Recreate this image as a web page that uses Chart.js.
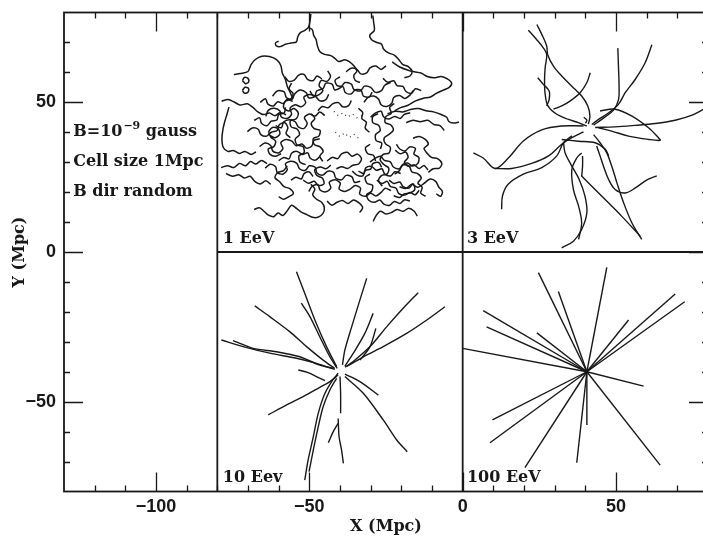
<!DOCTYPE html>
<html>
<head>
<meta charset="utf-8">
<script src="https://cdn.jsdelivr.net/npm/chart.js@4.4.1/dist/chart.umd.min.js"></script>
<style>
  html, body { margin: 0; padding: 0; background: #fff; overflow: hidden; }
  #wrap { width: 703px; height: 539px; overflow: hidden; }
</style>
</head>
<body>
<div id="wrap"><canvas id="chart" width="712" height="539"></canvas></div>
<script>
// tick labels
const xTicks = [-100, -50, 0, 50];
const yTicks = [-50, 0, 50];

// 1 EeV panel: random-walk tracks, flat x,y lists (Mpc)
const tracks1EeV = [
  // outer excursions
  [-49.5,79.5, -49.8,77, -50.3,75, -51.5,74, -53,73.2, -53.8,71.8, -54.2,70.2, -56,69.8, -57.8,69.4, -59.5,68.6, -60.8,68.9, -61,69.9, -60,70.4],
  [-50.3,75, -49,74.2, -48.6,72.4, -47.8,71, -47.4,69, -46.6,67, -45,66, -43,65.6, -41.5,64.5, -40.4,63.6, -38.5,64.2, -37,63.6, -35.5,62.2, -34.5,60.5, -35.5,59, -35,57.3, -33.5,56.6],
  [-29.3,79, -29,76.5, -28.8,74, -30.3,72.4, -29.6,70.8, -28,70, -26.5,69.5, -25.8,67.8, -24.2,66.5, -22.3,65.8, -20.8,64.2, -19.5,62.6, -17.8,62, -16.5,60.3, -17.2,58.8, -19,58.2],
  [-23,63.5, -20.5,61.8, -18,60.8, -15.8,60.2, -13.6,59.8, -11.5,58.6, -9.4,58.2, -7,58.6, -5,57.8, -3.6,56.4, -4.4,55, -6.5,54, -8.6,53, -10.5,51.8, -13,51.3, -15.5,50.4, -17.8,49, -20,48.3, -22.2,47.2],
  [-24.5,46.2, -22,47, -19.5,46.8, -17,47.6, -14.5,47.9, -12,47.2, -9.5,46.8, -7.2,46, -5.2,45, -4.5,43.6, -3,43.1, -1.2,43.4],
  [-74.6,59.3, -72.5,59.6, -70,60.3, -69,62.6, -67.6,64.3, -65.5,65.4, -63,65.3, -60.6,64.2, -59.3,62.3, -58.8,59.8, -57.8,57.6, -57.2,55.4, -56.2,53.2, -55.4,51.2],
  [-71.8,57.2, -71.2,58.3, -70,58, -69.8,56.8, -70.8,56.2, -71.8,57.2],
  [-71.8,54, -71,55, -69.8,54.6, -70,53.4, -71.2,53.1, -71.8,54],
  [-78.6,50.4, -76.5,50.9, -74.5,50.1, -72.6,49.1, -70.2,49.5, -68.4,48.3, -66.8,46.8, -65,45.9, -63,46.4, -61.2,45.5, -59.5,46.6, -57.6,45.8],
  [-76.2,48.4, -76.8,46.2, -77.6,43.5, -78.2,40.8, -78.5,37.8, -78.1,35, -76.6,33.6, -74.8,33.9, -72.8,32.9, -71,33.6, -69,32.6, -67.4,33.4],
  [-78.8,28.2, -76.6,28.8, -74.6,28.2, -72.8,29.6, -70.8,28.8, -69.2,30.2, -67.4,29.4, -65.6,30.6, -63.8,29.5],
  [-77.2,26.2, -75,25.3, -73,25.8, -71.2,24.7, -69.3,25.3, -67.8,23.6, -66,22.7, -64.2,23.8, -62.6,22.6],
  [-68,14.2, -66.3,14.8, -64.8,13.6, -63.3,12.3, -61.6,11.8, -60.2,13, -58.6,12.2, -57.2,13.8, -55.8,15.6, -54.2,14.6, -52.6,13.3, -50.8,12.5, -49,11.6, -47.2,11.6, -45.6,12.8, -45.1,14.8, -46,16.6, -47.6,17.6, -48.9,19.2, -48.2,21, -49.5,22.6],
  [-60,18.5, -58.4,17.6, -56.8,18.4, -55.2,19.6, -56.4,21.2, -58.2,21.8, -59.6,23.4, -61.2,24.8, -60.2,26.6, -58.4,27.2, -57.2,28.8],
  [-44.2,17, -42.6,15.6, -41,16.6, -39.2,17.2, -37.4,16.2, -35.6,17.4, -33.8,16.4, -32.6,14.8, -33.6,13.2],
  [-29.2,10.2, -28.2,12.2, -26.8,13.6, -25,12.7, -23.2,13.2, -21.4,14.2, -19.4,13.6, -17.6,14.6, -15.8,13.6, -14.8,12],
  [-20.6,21.8, -18.6,21.2, -16.6,22.6, -14.6,21.6, -12.6,22.9, -10.6,24.4, -8.8,23.6, -7.8,21.7, -6.6,20.2, -7.2,18.6, -8.6,19.4],
  [-16.2,38, -14.2,38.6, -12.2,37.6, -11.2,36, -12.6,34.6, -11.6,33, -10.2,31.6, -8.2,31.2, -6.8,29.6, -7.6,28, -9.6,27.8, -11.2,26.6],
  [-18.4,43.2, -16.2,44, -13.8,43.5, -11.4,44, -9.4,42.6, -7.4,42.2, -6,40.6],
  // dense ring round the source
  [-62,52, -60.5,53.8, -58.2,53.5, -57.5,51.6, -55.6,51, -54.8,52.8, -53,54.1, -51,53.2, -50.2,51.5, -48.3,51.9, -47.6,53.8, -45.5,54.6, -44.6,56.4, -42.5,56, -41.8,54.2, -39.8,54.9, -38.4,56.6, -36.3,56.1, -35.5,54.3, -33.4,53.8, -32,55.4, -30,55, -28.6,53.4, -26.5,53.9, -25.4,55.7, -23.5,56.6],
  [-64.2,45.3, -63.4,47.3, -61.5,48, -59.6,47.1, -59.2,45.2, -57.3,44.6, -55.8,46, -56.3,48, -54.6,49.2, -52.7,48.5, -51.2,49.8, -51.8,51.7, -50,52.6, -48,52, -46.6,50.5, -44.6,50.9, -43.7,52.7],
  [-55.8,56.4, -56.6,54.5, -55.3,52.9, -56.1,51, -57.9,50.3, -58.4,48.3, -56.8,47.1, -55,47.9, -53.6,46.4, -54.3,44.5, -56.2,43.8, -55.9,41.8, -54,41.1, -53.2,39.2, -54.6,37.7, -54,35.8, -52.1,35.2, -51.7,33.2, -53.4,32.1, -53,30, -51.2,29.2],
  [-61,42.2, -59.1,41.5, -58.4,43.4, -56.5,44.2, -54.6,43.5, -53.6,41.8, -51.7,41.3, -50.7,43, -51.6,44.9, -50,46.1, -48.1,45.4, -46.6,46.8, -45,45.6],
  [-66.2,35.2, -64.5,36.4, -62.6,35.6, -61.9,33.7, -60,33.1, -58.6,34.6, -59.3,36.5, -57.6,37.6, -55.7,37, -54.3,35.5, -52.4,36.1, -51,34.7, -49.2,35.4, -48.5,37.3, -46.6,37.8],
  [-64.4,28, -62.8,29.3, -61,28.5, -60.5,26.6, -58.6,26, -57.2,27.5, -57.8,29.4, -56,30.3, -54.1,29.6, -53.2,27.8, -51.3,27.3, -50,28.8, -48.1,28.3, -47.5,26.4, -45.6,25.7, -44,27, -42.1,26.6, -41.4,24.7, -39.5,24.1, -38,25.6, -36.1,25.1, -35.3,23.3, -33.4,23.6],
  [-50.2,20.2, -49.1,21.9, -47.2,22.5, -46.5,20.7, -44.6,20.1, -43,21.4, -43.5,23.3, -41.6,24.1, -39.9,23, -40.3,21.1, -38.5,20.2, -36.7,21, -35,22.2, -33.3,21.3, -33.6,19.4, -31.8,18.6, -30,19.6, -28.3,18.7, -26.6,19.9, -25.2,21.3, -23.4,20.5],
  [-26.2,22, -27.4,23.7, -26.5,25.5, -24.6,26.1, -24.1,28, -25.7,29.2, -26.9,30.8, -25.9,32.6, -24,33.1, -23.6,35, -25.2,36.2, -25.6,38.1, -24,39.3, -22.6,40.7, -23.5,42.5, -25.3,43.3, -25,45.3, -23.3,46.3, -23.8,48.3, -22.3,49.6],
  [-22.2,26, -20.6,27.2, -19.8,29, -18,29.7, -16.3,28.7, -14.6,29.6, -14.3,31.6, -15.9,32.7, -15.4,34.6, -17.3,35.1, -18.7,33.8, -20.5,34.4, -21.6,36],
  [-32.2,50, -30.9,51.6, -29,52.1, -27.4,51, -26.6,49.2, -24.8,48.6, -23.1,49.7, -22.5,51.6, -20.6,52.3, -18.9,51.3, -17.2,52.4, -16.1,54],
  [-30.2,30, -28.6,31.3, -26.8,32, -25.5,30.6, -23.6,30.1, -22.6,28.4, -20.7,27.8, -19.3,29.1, -17.4,28.6, -16.6,26.8, -14.7,26.2, -13.5,24.7, -14.6,23, -13.2,21.6, -13.7,19.7, -12.1,18.6],
  [-30.2,26, -31.8,24.9, -31.2,23, -29.4,22.3, -29.7,20.3, -31.3,19.2, -30.6,17.3, -28.8,16.6, -27,17.4, -25.7,16, -23.8,15.6, -22.3,16.9, -20.5,16.2, -19,17.4, -17.2,17],
  [-47.2,47.2, -45.8,48.6, -43.9,48.2, -42.4,49.5, -40.5,49.9, -39.1,48.5, -37.2,48.9, -36.3,50.6],
  [-30.2,36, -31.7,34.8, -31,32.9, -29.1,32.3, -28.4,30.4],
  [-70.2,40.2, -68.6,41.4, -66.7,41, -65.8,39.2, -63.9,38.7, -62.4,40, -60.5,40.6, -59.8,42.5, -58,43.2, -57,41.5, -57.6,39.6, -56.2,38.2],
  [-44,60.5, -43.1,58.7, -44.2,57, -46.1,57.3, -46.8,55.5, -45.6,54, -46.8,52.6, -48.7,52.2, -49.8,53.8],
  [-49.4,46.2, -48.2,44.6, -49.4,43, -48.4,41.2, -46.5,40.6, -46.9,38.7, -48.7,37.9, -48.4,35.9, -46.6,35.2, -45.5,33.6, -46.6,32, -45.6,30.3],
  [-27.6,46.2, -29.3,45.2, -29.3,43.2, -27.5,42.4, -26.9,40.5, -28.4,39.2, -28.2,37.2, -26.4,36.4, -26.8,34.4],
  [-44.2,30.4, -42.6,31.6, -40.7,31.2, -39.5,32.8, -37.6,33.3, -36.1,32, -34.3,32.7, -33,31.2, -33.9,29.4, -35.8,29, -37.5,27.9, -39.4,28.5, -41.2,27.8],
  [-38,60.2, -36.4,61.4, -34.5,61, -33.2,59.5, -31.3,59.8, -30.2,61.5, -28.3,62.1, -26.6,61, -25,62.2],
  [-24,24, -22.4,22.9, -20.5,23.4, -19.4,21.8, -17.5,21.4, -16.2,22.8, -15.6,20.9, -17.2,19.7, -19.1,19.4, -20.6,18.2, -22.5,18.8],
  [-58,58.5, -56.7,57, -54.8,57.5, -53.6,59, -51.7,59.3, -50.6,57.7, -48.7,57.3, -47.5,58.8, -45.9,57.8],
  [-63,39, -61.2,38.2, -59.6,39.4, -60.2,41.2, -62,41.6, -63.2,40.2, -62.6,38.4, -61,37, -61.6,35.2, -63.4,34.4, -62.8,32.6, -61,32, -59.2,32.8],
  [-52,24, -50.3,23, -48.4,23.6, -47,22.2, -45.2,22.8, -45.8,24.7, -47.6,25.6, -48.2,27.5, -46.4,28.4, -44.6,27.8, -43,29],
  [-34,27, -32.2,26.2, -31.6,28.1, -29.7,28.6, -28.2,27.3, -26.3,27.8, -25.4,26, -23.5,25.4, -22.1,26.8, -20.2,26.2],
  [-30,45, -28.5,46.4, -26.6,47, -25.8,45.2, -24,44.4, -22.2,45.3, -20.4,44.6, -19,46, -17.1,46.5],
  [-40,58.5, -41.6,57.4, -40.9,55.6, -39,55.2, -38.3,53.3, -36.4,52.8, -35,54.2, -33.1,54, -32.4,52.1, -30.5,51.8, -29.5,53.4],
  [-66,50, -64.3,51.2, -63.5,49.4, -61.7,48.8, -60.3,50.2, -58.5,49.6, -57.2,51, -55.4,50.3],
  [-68,44, -66.2,44.8, -65.6,43, -63.8,42.2, -62.4,43.7, -60.6,44.1, -60,45.9, -58.2,46.4, -57.8,48.3],
  [-60,30.5, -58.3,31.6, -56.6,31.1, -55.8,33, -54,33.6, -52.3,32.6, -50.5,33.1, -49.7,31.3, -47.9,30.7, -46.5,32],
  [-56,24, -54.4,25, -52.6,24.4, -51.7,26.2, -50,26.7, -48.8,25.2],
  [-22,34, -20.4,32.8, -18.6,33.4, -17.8,31.6, -19,30, -17.6,28.6, -15.8,29.1, -14.2,27.9, -12.6,28.9, -11.3,27.4],
  [-28,24, -26.3,22.9, -24.6,23.6, -23.6,21.9, -21.7,21.3, -20.9,19.6, -19,19, -17.2,19.9, -15.5,19.1, -14.2,20.6],
  [-36,27, -34.5,25.7, -32.6,25.4, -31.8,27.2, -30,27.7, -29.3,29.5, -27.4,29.9, -26.4,28.3],
  [-26,58, -24.4,56.7, -22.5,57.2, -21.4,55.6, -19.5,55.3, -18.5,53.6, -16.7,53, -15.4,54.5, -13.5,53.9],
  [-34,48, -32.6,46.6, -32.9,44.6, -31.4,43.3, -31.8,41.4, -30.4,40]
];
// faint dotted bits inside the hollow core
const specks1EeV = [
  [-42,47, -40.5,45.5, -39,46.5, -37.5,45, -36,46.2, -34.5,44.8, -33,45.6],
  [-41.5,40, -40,38.5, -38.5,39.8, -37,38.2, -35.5,39.4, -34,38]
];

// 3 EeV panel
const tracks3EeV = [
  [21.4,74.1, 24.1,71, 26.3,68.2, 27.4,66, 26.9,61.6, 26.7,57.1, 26.9,52.7, 27.8,48.8, 30.7,46, 34.5,44.3, 37.7,43.2, 40.5,42.1],
  [24.2,76, 25.8,72.7, 27.4,68.8, 27.7,66, 29.6,62.1, 32.3,58.8, 35.6,55.4, 38.8,52.1, 40.8,48.8, 41.5,45.4, 41,42.7],
  [24.5,58.2, 26.3,56, 28.2,53.8, 28.2,51, 27.4,48.8],
  [41.6,59.9, 40.5,56.6, 38.3,53.2, 35,50.4, 32.3,48.8, 29.6,47.7],
  [61.7,69.2, 59.5,63.2, 56.3,57.7, 53,53.2, 50.8,49.3, 47.6,46.5, 44.3,44.3, 42.1,42.6],
  [50.6,68.1, 50.8,62, 51,55.3, 50.8,50.8, 49.2,47.4, 45.9,44.7, 42.7,42.4],
  [79.5,48.2, 74.8,45.7, 69.3,44, 62.8,42.9, 56.3,42.3, 49.7,41.8, 43.2,41.6],
  [44.8,47.1, 49.7,47.7, 55.2,45.4, 60.6,41.5, 63.9,38.1, 64.4,37.3, 60.6,37.6, 54.1,38.7, 48.6,40.4, 44.3,41.5],
  [3.5,33.1, 6.7,31.4, 10.6,27.9, 14.9,31.4, 19.8,37.1, 25.8,40.8, 32.3,42.1, 39.4,42.1],
  [10.6,27.9, 16,27.9, 22.5,29.6, 28,32.1, 32.3,36, 35.6,38.2, 39.4,40.1],
  [12.7,14.3, 13,18.8, 14.9,22.7, 19.8,26, 25.8,28.2, 30.7,32.1, 32.9,36.6, 35.6,38.8],
  [32.3,1.4, 36.1,3.6, 38.8,7.5, 40.5,13.1, 39.9,18.6, 38,24.2, 35.6,28.7, 33.4,33.1, 32.9,36.5],
  [37.8,4.2, 38.8,9.7, 37.8,15.3, 36.1,20.9, 35.6,27.5, 37.2,31.4, 38.8,33.1],
  [39.1,32.1, 39.1,28.7, 38.8,25.2],
  [58.4,4.2, 55.2,9.7, 52.5,16.4, 50.3,23.1, 48.6,28.7, 47,33.1, 44.8,36.5, 42.7,39.2],
  [38.8,25.4, 45.4,18.6, 51.9,11.9, 57.9,5.3],
  [63.3,25.4, 60.1,24.1, 56.3,21.4, 53,19.7, 49.7,20.9, 47.6,24.2, 45.9,28.7, 44.8,32.1, 43.7,35.4],
  [32.3,37.6, 37.8,37, 43.2,36.5, 46.5,34.3, 47.6,32.1],
  [39.5,45, 40.5,44, 40,43]
];

// 10 EeV panel
const tracks10EeV = [
  [-54.2,-6.6, -51.5,-13.8, -48.2,-22.7, -44.4,-31.6, -41.1,-38.3],
  [-52.6,-17.1, -49.8,-21.6, -46.6,-28.3, -43.3,-35, -40.9,-38.9],
  [-67.8,-18, -62.9,-21.6, -56.4,-26.6, -50.9,-31.6, -45.5,-36.1, -41.7,-38.9],
  [-78.7,-29.4, -71.6,-31.6, -62.9,-33.8, -54.2,-35.5, -47.7,-37.2, -41.7,-39.2],
  [-74.9,-29.6, -68.3,-32.2, -60.7,-33.3, -53.1,-35, -46.6,-37.8, -42.2,-38.9],
  [-53.6,-39.4, -50.4,-40.3, -47.7,-41.6, -44.9,-43],
  [-63.4,-54.4, -57.4,-51.1, -52,-48.3, -46.6,-45.2, -43.3,-43.3, -40.6,-41.1],
  [-51.5,-76.2, -50.4,-69.5, -48.7,-61.7, -47.1,-53.9, -44.9,-47.2, -42.4,-42.8, -40.6,-40.5],
  [-50.1,-73.4, -48.7,-66.1, -47.1,-58.4, -45.5,-51.7, -43.3,-46.1, -41.1,-42.2],
  [-40,-41.6, -39.8,-47.2, -39.8,-53.9],
  [-40.6,-55.6, -40.3,-61.7, -39.5,-66.1, -38.9,-70.6],
  [-43.8,-63.7, -42.2,-60, -40.6,-57.2],
  [-38.4,-40.8, -33.5,-43.3, -27.5,-47.8],
  [-38.4,-41.6, -32.4,-47.2, -25.9,-56.1, -21.5,-62.8, -18.1,-66.7],
  [-31.3,-8.8, -33.5,-16, -36.2,-25, -38.4,-32.7, -39.2,-37.7],
  [-29.2,-20.5, -31.9,-27.2, -35.7,-33.9, -38.4,-38.1],
  [-28.3,-25.5, -30.2,-31.6, -33.5,-36.1],
  [-14.5,-13.6, -19.4,-18.8, -24.8,-25, -30.2,-31.6, -35.7,-36.6, -38.4,-38.5],
  [-5.8,-18.3, -11.7,-22.7, -18.3,-27.2, -25.9,-31.6, -32.4,-35, -37.9,-38.3]
];

// 100 EeV panel: straight tracks from the source to these end points
const source100EeV = [40.5, -40];
const ends100EeV = [
  [24.7,-6.9], [31.2,-13.2], [47,-5.1], [6.7,-19.6], [7.8,-25], [24.2,-27],
  [0,-32.2], [69.3,-14], [72.4,-16.6], [54.1,-22.7], [59,-44.8], [64.4,-71.2],
  [37.2,-70.4], [40.5,-57.8], [20.3,-72], [8.9,-63.7], [9.7,-56.1]
];

const panelLabels = ['1 EeV', '3 EeV', '10 Eev', '100 EeV'];
const noteLines = ['Cell size 1Mpc', 'B dir random'];

const ink = '#181818';
const serifBold = '"DejaVu Serif", "Liberation Serif", serif';

function toPoints(flat) {
  const pts = [];
  for (let i = 0; i < flat.length; i += 2) pts.push({ x: flat[i], y: flat[i + 1] });
  return pts;
}

const datasets = [];
function addTracks(tracks, tension, width, dash) {
  tracks.forEach(t => datasets.push({
    data: toPoints(t),
    showLine: true,
    borderColor: ink,
    borderWidth: width,
    borderDash: dash || [],
    pointRadius: 0,
    tension: tension,
    fill: false
  }));
}
addTracks(tracks1EeV, 0.3, 1.5);
addTracks(specks1EeV, 0, 1.1, [1, 4]);
addTracks(tracks3EeV, 0.35, 1.4);
addTracks(tracks10EeV, 0.3, 1.4);
addTracks(ends100EeV.map(e => [source100EeV[0], source100EeV[1], e[0], e[1]]), 0, 1.4);

// frame, panel dividers, inward ticks and text
const frame = {
  id: 'frame',
  afterDatasetsDraw(chart) {
    const { ctx, chartArea: a, scales: { x, y } } = chart;
    ctx.save();
    ctx.strokeStyle = ink;
    ctx.lineCap = 'butt';

    ctx.lineWidth = 1.3;
    ctx.beginPath();
    for (let v = -120; v <= 70; v += 10) {
      const px = Math.round(x.getPixelForValue(v)) + 0.5;
      const len = v % 50 === 0 ? 19 : 6;
      ctx.moveTo(px, a.bottom); ctx.lineTo(px, a.bottom - len);
      ctx.moveTo(px, a.top); ctx.lineTo(px, a.top + len);
    }
    for (let v = -70; v <= 70; v += 10) {
      const py = Math.round(y.getPixelForValue(v)) + 0.5;
      const len = v % 50 === 0 ? 19 : 6;
      ctx.moveTo(a.left, py); ctx.lineTo(a.left + len, py);
      ctx.moveTo(a.right, py); ctx.lineTo(a.right - len, py);
    }
    ctx.stroke();

    ctx.lineWidth = 1.8;
    ctx.strokeRect(a.left, a.top, a.right - a.left, a.bottom - a.top);
    const xa = x.getPixelForValue(-80), xb = x.getPixelForValue(0), y0 = y.getPixelForValue(0);
    ctx.beginPath();
    ctx.moveTo(xa, a.top); ctx.lineTo(xa, a.bottom);
    ctx.moveTo(xb, a.top); ctx.lineTo(xb, a.bottom);
    ctx.moveTo(xa, y0); ctx.lineTo(a.right, y0);
    ctx.stroke();

    ctx.fillStyle = ink;
    ctx.textAlign = 'left';
    ctx.textBaseline = 'middle';
    const big = 'bold 16px ' + serifBold;
    ctx.font = big;
    const nx = x.getPixelForValue(-127);
    const ny = y.getPixelForValue(40);
    ctx.fillText('B=10', nx, ny);
    let w = ctx.measureText('B=10').width;
    ctx.font = 'bold 11px ' + serifBold;
    ctx.fillText('\u22129', nx + w + 1, ny - 6);
    w += ctx.measureText('\u22129').width + 1;
    ctx.font = big;
    ctx.fillText(' gauss', nx + w, ny);
    noteLines.forEach((t, i) => ctx.fillText(t, nx, y.getPixelForValue(30 - i * 10)));

    const lx = [-78.2, 1.4, -78.2, 1.4];
    const ly = [4.5, 4.5, -75.5, -75.5];
    panelLabels.forEach((t, i) => ctx.fillText(t, x.getPixelForValue(lx[i]), y.getPixelForValue(ly[i])));
    ctx.restore();
  }
};

const tickFont = { family: '"Liberation Sans", Arial, sans-serif', weight: 'bold', size: 18 };
const titleFont = { family: serifBold, weight: 'bold', size: 16 };
const fmt = v => String(v).replace('-', '\u2212');

new Chart(document.getElementById('chart'), {
  type: 'scatter',
  data: { datasets: datasets },
  options: {
    responsive: false,
    animation: false,
    devicePixelRatio: 1,
    layout: { padding: { left: 0, right: 4, top: 12.5, bottom: 0 } },
    plugins: { legend: { display: false }, tooltip: { enabled: false } },
    scales: {
      x: {
        type: 'linear', min: -130, max: 80,
        grid: { display: false, drawTicks: false }, border: { display: false },
        afterBuildTicks: s => { s.ticks = xTicks.map(v => ({ value: v })); },
        afterFit: s => { s.height = 47.5; s.paddingLeft = 0; s.paddingRight = 0; },
        ticks: { padding: 5, color: ink, font: tickFont, maxRotation: 0, callback: fmt },
        title: { display: true, text: 'X (Mpc)', color: ink, font: titleFont, padding: { top: 0, bottom: 3 } }
      },
      y: {
        type: 'linear', min: -80, max: 80,
        grid: { display: false, drawTicks: false }, border: { display: false },
        afterBuildTicks: s => { s.ticks = yTicks.map(v => ({ value: v })); },
        afterFit: s => { s.width = 64; s.paddingTop = 0; s.paddingBottom = 0; },
        ticks: { padding: 8, color: ink, font: tickFont, callback: fmt },
        title: { display: true, text: 'Y (Mpc)', color: ink, font: titleFont, padding: { top: 10, bottom: 0 } }
      }
    }
  },
  plugins: [frame]
});
</script>
</body>
</html>
